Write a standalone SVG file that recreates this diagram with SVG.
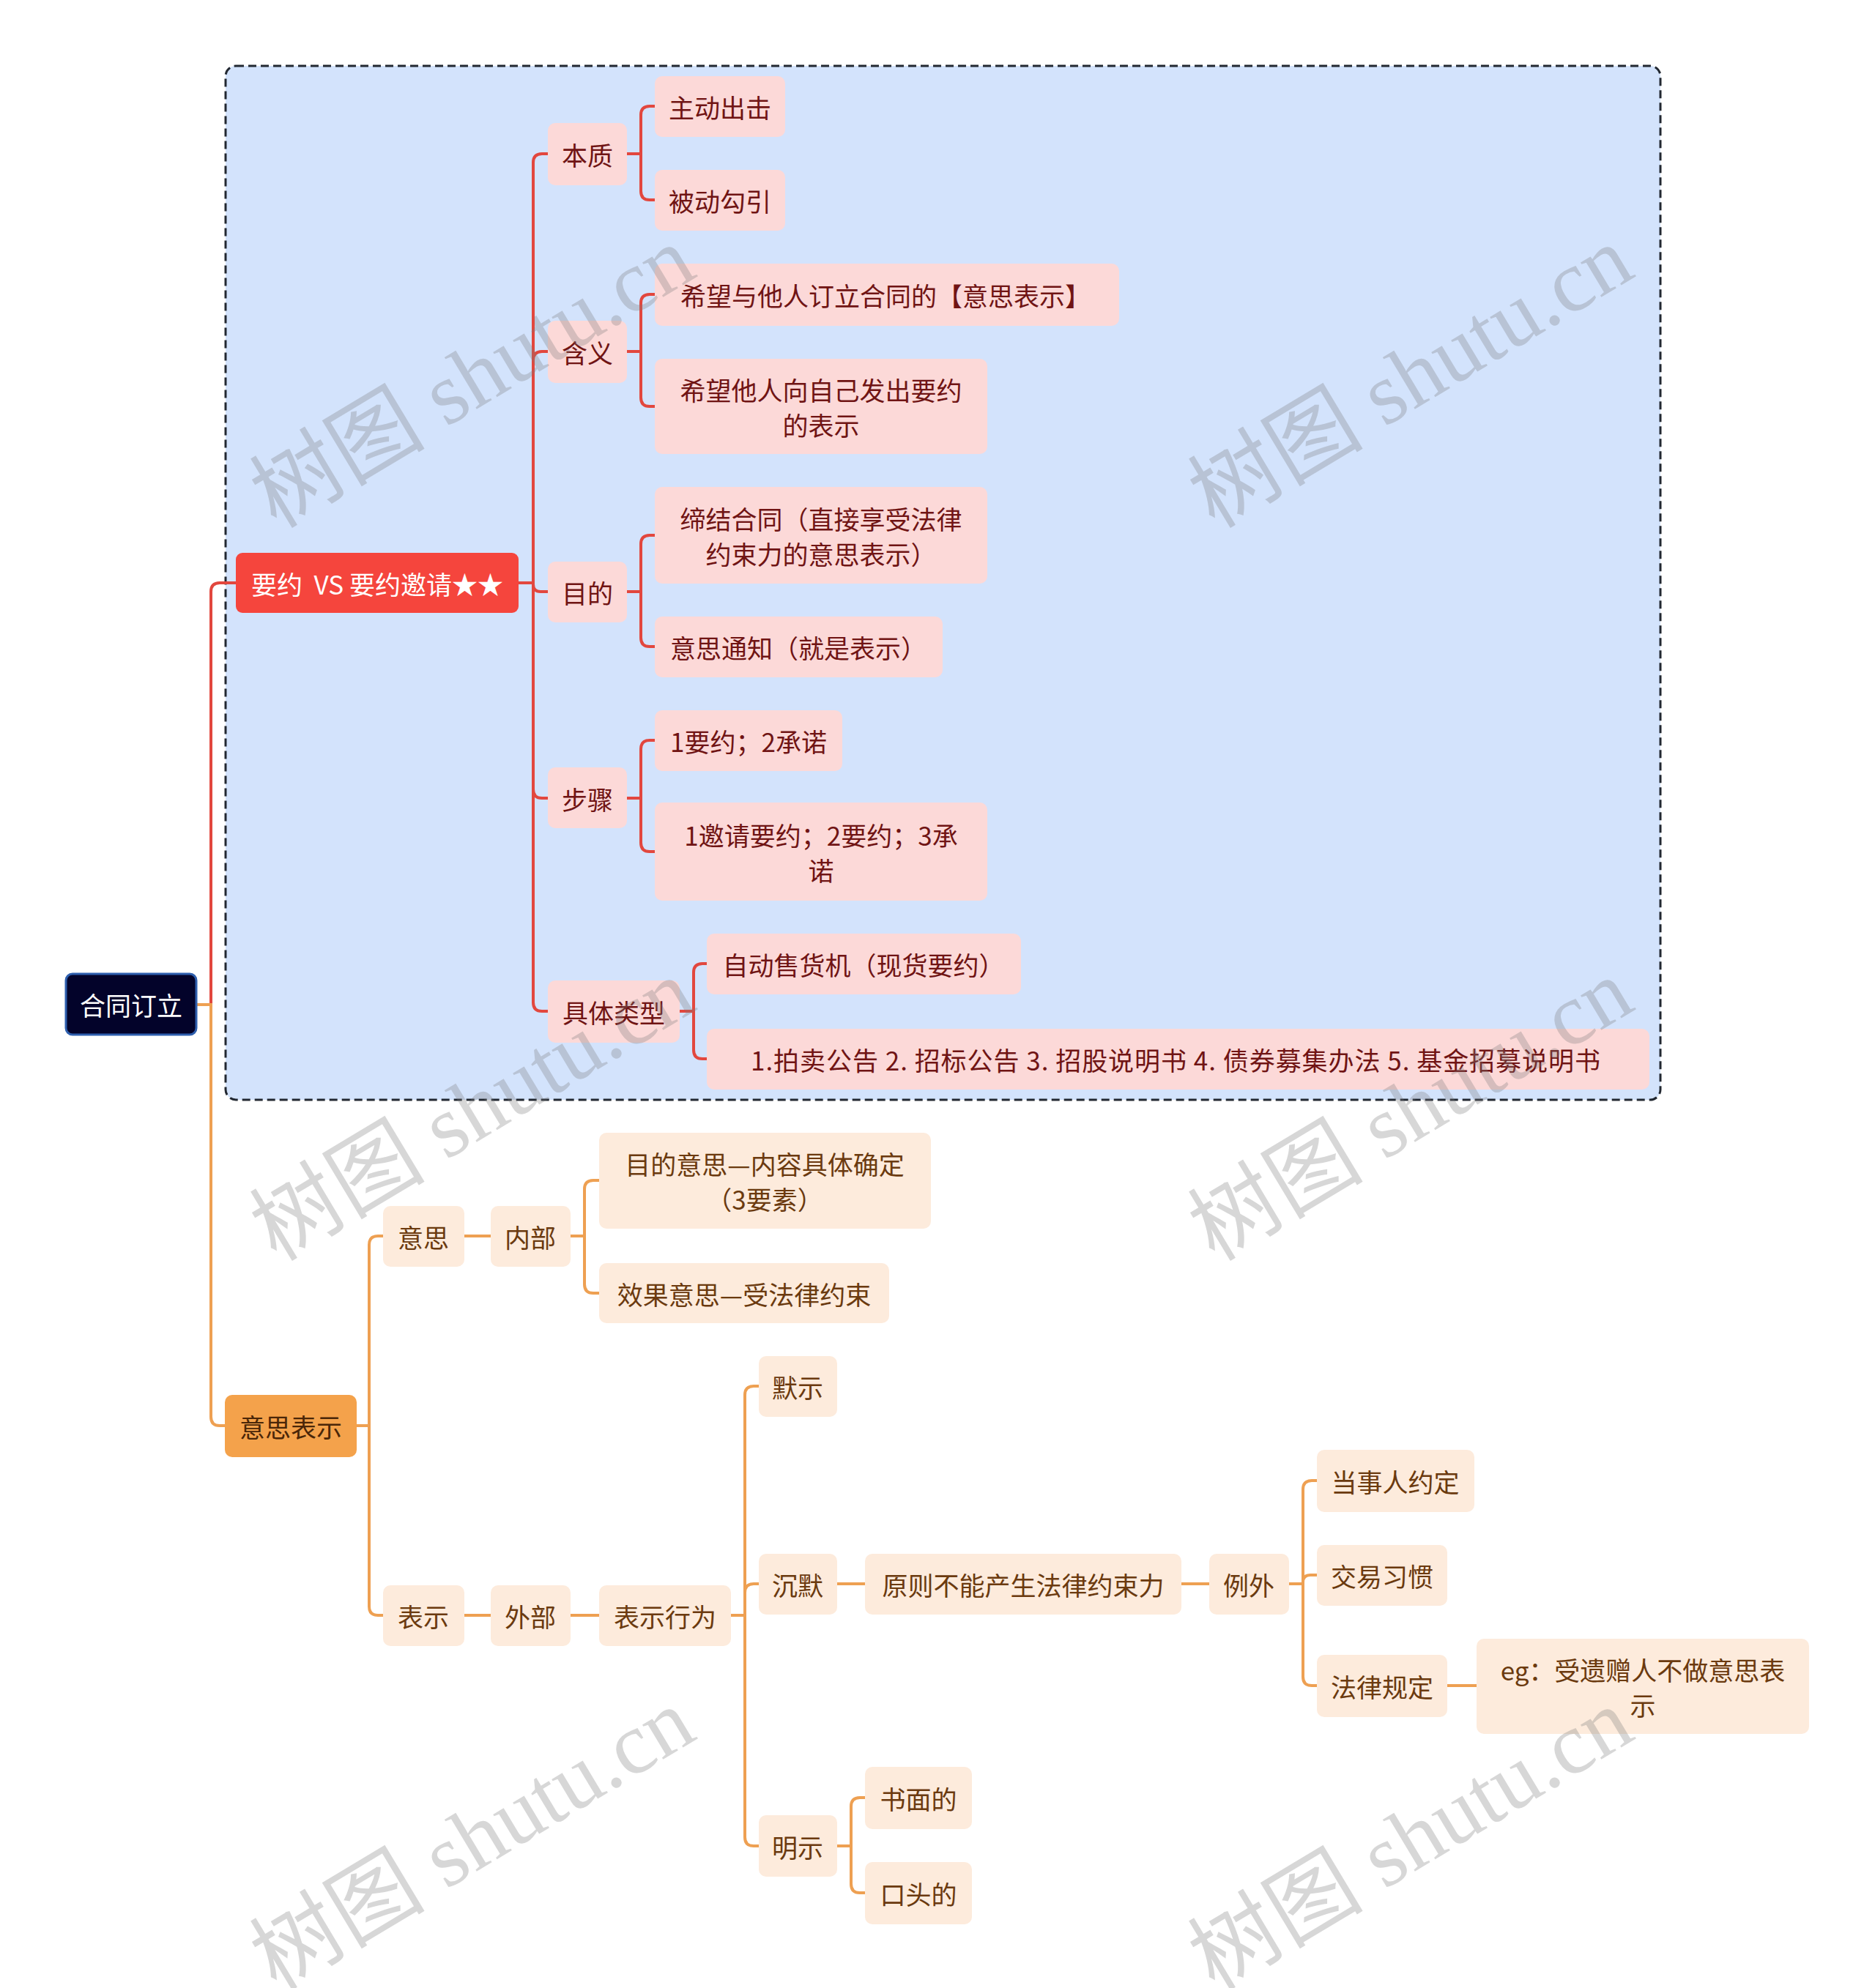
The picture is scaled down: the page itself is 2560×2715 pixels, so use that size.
<svg xmlns="http://www.w3.org/2000/svg" width="2560" height="2715" viewBox="0 0 2560 2715">
<style>
text{font-family:"Noto Sans CJK SC","Noto Sans",sans-serif;font-size:35px;text-anchor:middle;dominant-baseline:central}
.r rect{fill:#fcd9d8}
.r text{fill:#701414}
.o rect{fill:#fdebdc}
.o text{fill:#6b3a0f}
.lr{fill:none;stroke:#e2473e;stroke-width:4;stroke-linecap:round}
.lo{fill:none;stroke:#eea052;stroke-width:4;stroke-linecap:round}
.wm{font-family:"Liberation Serif","Noto Sans CJK SC",serif;font-size:120px;fill:#7a7a7a;fill-opacity:0.3}
</style>
<rect width="2560" height="2715" fill="#ffffff"/>
<rect id="boundary" x="308" y="90" width="1959" height="1412" rx="14" fill="#d3e3fc" stroke="#222831" stroke-width="3" stroke-dasharray="11 6"/>
<g id="connectors">
<path class="lr" d="M288,1372 V808 Q288,796 300,796 H322"/>
<path class="lo" d="M268,1372 H288 V1935 Q288,1947 300,1947 H307"/>
<path class="lr" d="M708,796 H728 V222 Q728,210 740,210 H748"/>
<path class="lr" d="M708,796 H728 V492 Q728,480 740,480 H748"/>
<path class="lr" d="M708,796 H728 V798 Q728,808 738,808 H748"/>
<path class="lr" d="M708,796 H728 V1078 Q728,1090 740,1090 H748"/>
<path class="lr" d="M708,796 H728 V1369 Q728,1381 740,1381 H748"/>
<path class="lr" d="M856,210 H875 V157 Q875,145 887,145 H894"/>
<path class="lr" d="M856,210 H875 V261 Q875,273 887,273 H894"/>
<path class="lr" d="M856,480 H875 V414 Q875,402 887,402 H894"/>
<path class="lr" d="M856,480 H875 V543 Q875,555 887,555 H894"/>
<path class="lr" d="M856,808 H875 V743 Q875,731 887,731 H894"/>
<path class="lr" d="M856,808 H875 V871 Q875,883 887,883 H894"/>
<path class="lr" d="M856,1090 H875 V1023 Q875,1011 887,1011 H894"/>
<path class="lr" d="M856,1090 H875 V1151 Q875,1163 887,1163 H894"/>
<path class="lr" d="M928,1381 H947 V1328 Q947,1316 959,1316 H965"/>
<path class="lr" d="M928,1381 H947 V1434 Q947,1446 959,1446 H965"/>
<path class="lo" d="M487,1947 H504 V1700 Q504,1688 516,1688 H523"/>
<path class="lo" d="M487,1947 H504 V2194 Q504,2206 516,2206 H523"/>
<path class="lo" d="M634,1688 H670"/>
<path class="lo" d="M779,1688 H798 V1624 Q798,1612 810,1612 H818"/>
<path class="lo" d="M779,1688 H798 V1754 Q798,1766 810,1766 H818"/>
<path class="lo" d="M634,2206 H670"/>
<path class="lo" d="M779,2206 H818"/>
<path class="lo" d="M998,2206 H1017 V1905 Q1017,1893 1029,1893 H1036"/>
<path class="lo" d="M998,2206 H1017 V2175 Q1017,2163 1029,2163 H1036"/>
<path class="lo" d="M998,2206 H1017 V2509 Q1017,2521 1029,2521 H1036"/>
<path class="lo" d="M1143,2163 H1181"/>
<path class="lo" d="M1613,2163 H1651"/>
<path class="lo" d="M1760,2163 H1779 V2034 Q1779,2022 1791,2022 H1798"/>
<path class="lo" d="M1760,2163 H1779 V2161 Q1779,2151 1789,2151 H1798"/>
<path class="lo" d="M1760,2163 H1779 V2290 Q1779,2302 1791,2302 H1798"/>
<path class="lo" d="M1976,2302 H2016"/>
<path class="lo" d="M1143,2521 H1162 V2467 Q1162,2455 1174,2455 H1181"/>
<path class="lo" d="M1143,2521 H1162 V2573 Q1162,2585 1174,2585 H1181"/>
</g>
<g id="root"><rect x="90" y="1330" width="178" height="83" rx="9" fill="#03032a" stroke="#2e5fae" stroke-width="3"/><text x="179" y="1371" fill="#ffffff" font-size="36">合同订立</text></g>
<g id="offer"><rect x="322" y="755" width="386" height="82" rx="9" fill="#f5453d"/><text x="515" y="796" fill="#ffffff" xml:space="preserve">要约  VS 要约邀请★★</text></g>
<g class="r">
<g id="n-benzhi"><rect x="748" y="168" width="108" height="85" rx="10"/><text x="802" y="210">本质</text></g>
<g id="n-zhudong"><rect x="894" y="104" width="178" height="83" rx="10"/><text x="983" y="145">主动出击</text></g>
<g id="n-beidong"><rect x="894" y="232" width="178" height="83" rx="10"/><text x="983" y="273">被动勾引</text></g>
<g id="n-hanyi"><rect x="748" y="438" width="108" height="85" rx="10"/><text x="802" y="480">含义</text></g>
<g id="n-xiwang1"><rect x="894" y="360" width="634" height="85" rx="10"/><text x="1209" y="402">希望与他人订立合同的【意思表示】</text></g>
<g id="n-xiwang2"><rect x="894" y="490" width="454" height="130" rx="10"/><text x="1121" y="531">希望他人向自己发出要约</text><text x="1121" y="579">的表示</text></g>
<g id="n-mudi"><rect x="748" y="767" width="108" height="83" rx="10"/><text x="802" y="808">目的</text></g>
<g id="n-dijie"><rect x="894" y="665" width="454" height="132" rx="10"/><text x="1121" y="707">缔结合同（直接享受法律</text><text x="1121" y="755">约束力的意思表示）</text></g>
<g id="n-tongzhi"><rect x="894" y="842" width="393" height="83" rx="10"/><text x="1090" y="883">意思通知（就是表示）</text></g>
<g id="n-buzhou"><rect x="748" y="1048" width="108" height="83" rx="10"/><text x="802" y="1090">步骤</text></g>
<g id="n-step1"><rect x="894" y="970" width="256" height="83" rx="10"/><text x="1022" y="1011">1要约；2承诺</text></g>
<g id="n-step2"><rect x="894" y="1096" width="454" height="134" rx="10"/><text x="1121" y="1139">1邀请要约；2要约；3承</text><text x="1121" y="1187">诺</text></g>
<g id="n-leixing"><rect x="748" y="1339" width="180" height="85" rx="10"/><text x="838" y="1381">具体类型</text></g>
<g id="n-shouhuo"><rect x="965" y="1275" width="429" height="83" rx="10"/><text x="1179" y="1316">自动售货机（现货要约）</text></g>
<g id="n-gonggao"><rect x="965" y="1405" width="1287" height="83" rx="10"/><text x="1605" y="1446" textLength="1160" lengthAdjust="spacing">1.拍卖公告 2. 招标公告 3. 招股说明书 4. 债券募集办法 5. 基金招募说明书</text></g>
</g>
<g id="n-yisibiaoshi"><rect x="307" y="1905" width="180" height="85" rx="10" fill="#f4a24b"/><text x="397" y="1947" fill="#4a2608">意思表示</text></g>
<g class="o">
<g id="n-yisi"><rect x="523" y="1647" width="111" height="83" rx="10"/><text x="578" y="1688">意思</text></g>
<g id="n-neibu"><rect x="670" y="1647" width="109" height="83" rx="10"/><text x="724" y="1688">内部</text></g>
<g id="n-mudiyisi"><rect x="818" y="1547" width="453" height="131" rx="10"/><text x="1044" y="1588">目的意思—内容具体确定</text><text x="1044" y="1636">（3要素）</text></g>
<g id="n-xiaoguo"><rect x="818" y="1725" width="396" height="82" rx="10"/><text x="1016" y="1766">效果意思—受法律约束</text></g>
<g id="n-biaoshi"><rect x="523" y="2165" width="111" height="83" rx="10"/><text x="578" y="2206">表示</text></g>
<g id="n-waibu"><rect x="670" y="2165" width="109" height="83" rx="10"/><text x="724" y="2206">外部</text></g>
<g id="n-xingwei"><rect x="818" y="2165" width="180" height="83" rx="10"/><text x="908" y="2206">表示行为</text></g>
<g id="n-moshi"><rect x="1036" y="1852" width="107" height="83" rx="10"/><text x="1089" y="1893">默示</text></g>
<g id="n-chenmo"><rect x="1036" y="2122" width="107" height="83" rx="10"/><text x="1089" y="2163">沉默</text></g>
<g id="n-yuanze"><rect x="1181" y="2122" width="432" height="83" rx="10"/><text x="1397" y="2163">原则不能产生法律约束力</text></g>
<g id="n-liwai"><rect x="1651" y="2122" width="109" height="83" rx="10"/><text x="1705" y="2163">例外</text></g>
<g id="n-dangshiren"><rect x="1798" y="1980" width="215" height="85" rx="10"/><text x="1905" y="2022">当事人约定</text></g>
<g id="n-jiaoyi"><rect x="1798" y="2110" width="178" height="83" rx="10"/><text x="1887" y="2151">交易习惯</text></g>
<g id="n-falv"><rect x="1798" y="2260" width="178" height="85" rx="10"/><text x="1887" y="2302">法律规定</text></g>
<g id="n-eg"><rect x="2016" y="2238" width="454" height="130" rx="10"/><text x="2243" y="2279">eg：受遗赠人不做意思表</text><text x="2243" y="2327">示</text></g>
<g id="n-mingshi"><rect x="1036" y="2479" width="107" height="84" rx="10"/><text x="1089" y="2521">明示</text></g>
<g id="n-shumian"><rect x="1181" y="2413" width="146" height="85" rx="10"/><text x="1254" y="2455">书面的</text></g>
<g id="n-koutou"><rect x="1181" y="2543" width="146" height="85" rx="10"/><text x="1254" y="2585">口头的</text></g>
</g>
<g id="watermarks">
<text class="wm" transform="translate(645,515) rotate(-31)">树图 shutu.cn</text>
<text class="wm" transform="translate(1926,515) rotate(-31)">树图 shutu.cn</text>
<text class="wm" transform="translate(645,1516) rotate(-31)">树图 shutu.cn</text>
<text class="wm" transform="translate(1926,1516) rotate(-31)">树图 shutu.cn</text>
<text class="wm" transform="translate(645,2512) rotate(-31)">树图 shutu.cn</text>
<text class="wm" transform="translate(1926,2512) rotate(-31)">树图 shutu.cn</text>
</g>
</svg>
